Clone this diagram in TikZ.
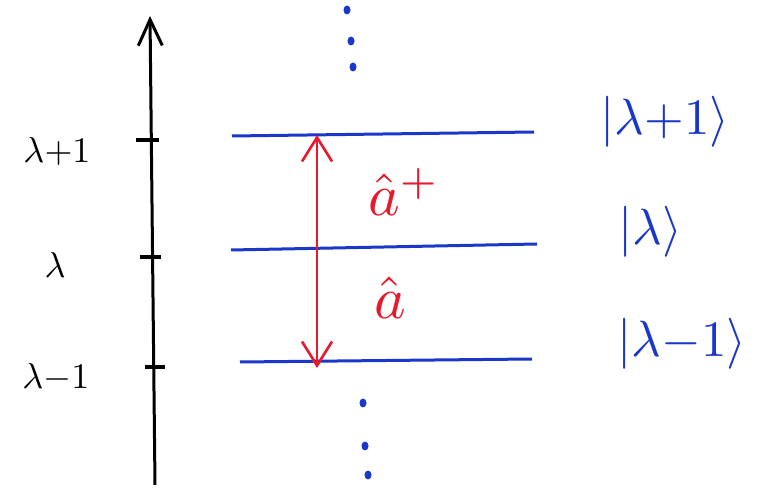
\documentclass[tikz,border=0pt]{standalone}
\usetikzlibrary{arrows.meta}
\definecolor{penblue}{RGB}{25,55,200}
\definecolor{penred}{RGB}{230,25,45}
\begin{document}
\begin{tikzpicture}[x=1pt,y=-1pt,
  axisline/.style={line width=3pt,black},
  tickmark/.style={line width=3.2pt,black},
  level/.style={line width=3pt,penblue},
  ladder/.style={line width=2.6pt,penred,{Straight Barb[length=24pt,width=30pt,line width=2.6pt]}-{Straight Barb[length=24pt,width=30pt,line width=2.6pt]}},
  axlabel/.style={scale=3.6},
  ketlabel/.style={text=penblue,scale=5.1},
  oplabel/.style={text=penred,scale=6},
  dotmark/.style={fill=penblue,draw=none}]
\useasboundingbox[fill=white] (0,0) rectangle (764,494);
% axis
\coordinate (axbot) at (155,485);
\coordinate (axtop) at (150,16);
\draw[axisline,-{Straight Barb[length=26pt,width=24pt,line width=3pt]}] (axbot) -- (axtop);
% ticks
\draw[tickmark] (136,140) -- (159,140);
\draw[tickmark] (140,257) -- (161,257);
\draw[tickmark] (145,367) -- (165,367);
\node[axlabel] (l1) at (57,152) {$\lambda{+}1$};
\node[axlabel] (l0) at (55,265) {$\lambda$};
\node[axlabel] (lm) at (56,378) {$\lambda{-}1$};
% levels
\coordinate (t1) at (232,136);
\coordinate (t2) at (534,132);
\coordinate (m1) at (231,250);
\coordinate (m2) at (537,244);
\coordinate (b1) at (240,362);
\coordinate (b2) at (532,359);
\draw[level] (t1) -- (t2);
\draw[level] (m1) -- (m2);
\draw[level] (b1) -- (b2);
% ladder arrow
\coordinate (up) at (317,135);
\coordinate (dn) at (317,368);
\draw[ladder] (dn) -- (up);
\node[oplabel] (adag) at (404,192) {$\hat a^{+}$};
\node[oplabel] (ann) at (390,298) {$\hat a$};
% kets
\node[ketlabel] (k1) at (665,122) {$|\lambda{+}1\rangle$};
\node[ketlabel] (k0) at (650,232) {$|\lambda\rangle$};
\node[ketlabel] (km) at (682,344) {$|\lambda{-}1\rangle$};
% dots
\foreach \x/\y in {347/10,351/41,353/67,363/403,365/446,368/475}
  \fill[dotmark] (\x,\y) ellipse (3.5pt and 4.5pt);
\end{tikzpicture}
\end{document}
